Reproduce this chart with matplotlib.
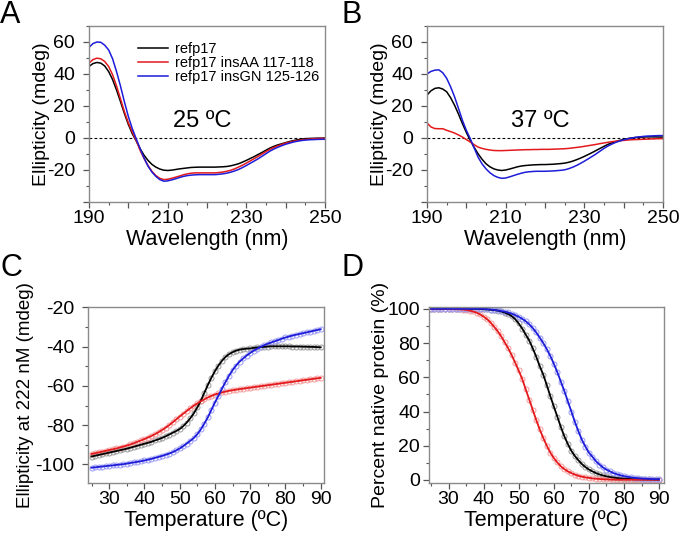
import matplotlib
matplotlib.use("Agg")
import matplotlib.pyplot as plt
from matplotlib.ticker import MultipleLocator, FuncFormatter
import numpy as np

plt.rcParams['font.family'] = ['Liberation Sans', 'DejaVu Sans']
plt.rcParams['axes.unicode_minus'] = False

# ---- CD spectra (panels A, B) ----
wavelength = np.arange(190, 251)
series_names = ["refp17", "refp17 insAA 117-118", "refp17 insGN 125-126"]

cd25_wt = [44.7, 46.5, 47.2, 46.8, 45, 41.5, 36.5, 30, 22.8, 15.3, 8.5, 2.7, -1.8, -6.7, -10.8,
           -14, -16.5, -18.2, -19.4, -20.1, -20.3, -20.1, -19.7, -19.3, -19, -18.7, -18.4, -18.3,
           -18.2, -18.2, -18.2, -18.2, -18.2, -18.1, -18, -17.8, -17.4, -16.8, -16.1, -15.1, -14,
           -12.8, -11.6, -10.3, -9, -7.6, -6.3, -5.2, -4.3, -3.6, -2.9, -2.2, -1.6, -1.1, -0.7,
           -0.4, -0.3, -0.2, -0.1, -0.1, 0]
cd25_aa = [46.8, 49, 49.9, 49.5, 47.8, 44.7, 39.5, 32.5, 24.5, 16.4, 9.5, 3.8, -1.5, -7.8, -12.8,
           -17.2, -20.8, -23.5, -25.2, -26, -25.8, -25.2, -24.5, -23.8, -23, -22.4, -22, -21.8,
           -21.8, -21.8, -21.8, -21.8, -21.8, -21.6, -21.3, -20.8, -20.2, -19.3, -18.2, -17, -15.7,
           -14.3, -12.9, -11.5, -10, -8.5, -7.1, -5.9, -4.9, -4, -3.2, -2.6, -2, -1.6, -1.2,
           -0.9, -0.7, -0.5, -0.4, -0.3, -0.2]
cd25_gn = [56.6, 59, 60, 59.8, 58, 55, 49.5, 41.5, 32.5, 22.6, 13.5, 5.9, -0.5, -6.7, -12.5,
           -17.6, -21.3, -24, -26, -27, -26.8, -26.2, -25.5, -24.7, -24, -23.5, -23.2, -23,
           -22.9, -22.9, -22.9, -22.9, -22.9, -22.7, -22.4, -22, -21.4, -20.6, -19.7, -18.5, -17.2,
           -15.8, -14.4, -13, -11.4, -9.8, -8.2, -6.9, -5.8, -4.8, -3.9, -3.2, -2.5, -2, -1.6,
           -1.3, -1.1, -1, -0.9, -0.8, -0.8]

cd37_wt = [26.8, 29.5, 31, 31.4, 30.6, 28.9, 25.2, 20.5, 15, 9, 3.5, -1.5, -5.9, -9.9, -13.3,
           -16.1, -18, -19.3, -20, -20.3, -20, -19.4, -18.7, -18, -17.5, -17.2, -17, -16.8,
           -16.7, -16.6, -16.6, -16.5, -16.4, -16.2, -16, -15.7, -15.2, -14.5, -13.6, -12.6, -11.5,
           -10.3, -9.1, -7.8, -6.5, -5.2, -4, -3, -2.2, -1.5, -0.9, -0.4, 0, 0.3, 0.5,
           0.6, 0.7, 0.7, 0.7, 0.6, 0.6]
cd37_aa = [9.4, 6.9, 5.9, 5.8, 5.8, 4.8, 4, 3.1, 1.9, 0.6, -1, -2.5, -4.2, -5.7, -6.5,
           -7.1, -7.5, -7.8, -7.9, -7.9, -7.8, -7.7, -7.6, -7.5, -7.4, -7.3, -7.3, -7.2,
           -7.2, -7.1, -7.1, -7.1, -7, -6.9, -6.8, -6.7, -6.5, -6.2, -5.9, -5.6, -5.2,
           -4.8, -4.4, -4, -3.5, -3.1, -2.7, -2.3, -2, -1.7, -1.5, -1.3, -1.1, -1, -0.9,
           -0.8, -0.7, -0.6, -0.5, -0.4, -0.4]
cd37_gn = [40, 41.6, 42.4, 42.6, 40.8, 37.3, 32, 25.8, 18.5, 11.1, 4.8, -0.4, -6.3, -12, -16.2,
           -19.3, -21.7, -23.5, -24.6, -25.2, -25, -24.3, -23.5, -22.7, -22, -21.4, -21.1, -20.9,
           -20.8, -20.8, -20.8, -20.7, -20.6, -20.4, -20.2, -19.9, -19.2, -18.3, -17.2, -15.9, -14.5,
           -13, -11.5, -9.9, -8.2, -6.5, -5, -3.8, -2.7, -1.9, -1.1, -0.5, 0, 0.4, 0.7,
           1, 1.2, 1.3, 1.4, 1.5, 1.5]

# ---- thermal melts (panels C, D) ----
temperature = np.arange(25, 91)

melt_wt = [-96, -95.6, -95.2, -94.8, -94.4, -94, -93.6, -93.2, -92.8, -92.4, -92, -91.5, -91,
           -90.5, -90, -89.5, -89, -88.5, -87.8, -87.2, -86.5, -85.7, -84.8, -83.9, -83, -82,
           -80.5, -78.7, -76.5, -74, -71, -67.5, -63.5, -59.5, -55.8, -52.5, -49.6, -47.2, -45.2,
           -43.8, -42.8, -42, -41.5, -41.2, -41, -40.9, -40.6, -40.4, -40.2, -40.1, -39.9, -39.8,
           -39.8, -39.8, -39.8, -39.8, -39.8, -39.9, -39.9, -39.9, -40, -40, -40.1, -40.1, -40.2,
           -40.3]
melt_aa = [-94.7, -94.3, -93.9, -93.5, -93.1, -92.7, -92.3, -91.9, -91.4, -90.9, -90.4, -89.8,
           -89.2, -88.5, -87.8, -87.1, -86.3, -85.5, -84.6, -83.6, -82.5, -81.3, -80, -78.6, -77.1,
           -75.6, -74.2, -72.8, -71.4, -70.1, -68.9, -67.8, -66.8, -65.9, -65.1, -64.4, -63.8,
           -63.3, -62.9, -62.5, -62.2, -61.9, -61.6, -61.4, -61.1, -60.9, -60.6, -60.4, -60.1,
           -59.9, -59.6, -59.4, -59.1, -58.9, -58.6, -58.4, -58.1, -57.9, -57.6, -57.4, -57.1,
           -56.9, -56.6, -56.4, -56.1, -55.9]
melt_gn = [-101.7, -101.5, -101.3, -101.1, -100.9, -100.7, -100.5, -100.3, -100.1, -99.9, -99.6,
           -99.3, -99, -98.7, -98.4, -98, -97.6, -97.2, -96.7, -96.2, -95.7, -95.1, -94.5, -93.8,
           -92.9, -91.9, -90.7, -89.4, -88, -86.6, -84.6, -82.2, -79.2, -76, -72.2, -68.5, -65,
           -61.4, -58, -54.8, -52, -49.6, -47.6, -46, -44.5, -43.2, -42, -41, -40.1, -39.2,
           -38.5, -37.8, -37.2, -36.6, -35.9, -35.3, -34.8, -34.3, -33.9, -33.5, -33.1, -32.7,
           -32.3, -31.9, -31.5, -31.1]

native_wt = [100, 100, 100, 100, 100, 100, 100, 100, 100, 100, 100, 100, 100, 100,
             99.9, 99.8, 99.7, 99.5, 99.3, 99, 98.5, 97.8, 97, 95.8, 94, 91.5, 88.5, 85, 81.5,
             77, 72, 66.5, 61.5, 55.5, 49, 43, 37, 31, 25.5, 21, 17, 14, 11.5, 9.3, 7.5, 6.1,
             5, 4, 3.2, 2.6, 2.1, 1.7, 1.4, 1.1, 0.9, 0.7, 0.6, 0.5, 0.4, 0.4, 0.3, 0.3, 0.3,
             0.2, 0.2, 0.2]
native_aa = [100, 100, 100, 100, 99.9, 99.9, 99.9, 99.8, 99.8, 99.6, 99.4, 99, 98.5, 97.8,
             96.8, 95.5, 94, 92, 89.5, 87, 84, 80.5, 77, 73, 68.5, 64, 59, 53, 47, 41, 35, 29.5,
             24.5, 20, 16, 12.8, 10.2, 8, 6.3, 5, 4, 3.1, 2.4, 1.9, 1.5, 1.2, 0.9, 0.7, 0.55,
             0.4, 0.3, 0.25, 0.2, 0.15, 0.1, 0.1, 0.1, 0.1, 0.1, 0.1, 0.1, 0.1, 0.1, 0.1, 0.1,
             0.1]
native_gn = [100, 100, 100, 100, 100, 100, 100, 100, 100, 100, 100, 100, 100, 100, 100, 100,
             99.8, 99.6, 99.4, 99.1, 98.8, 98.4, 97.9, 97.2, 96.4, 95.4, 94.2, 92.8, 91, 88.8,
             86.2, 83.2, 80, 76.5, 72.5, 68, 63, 57.5, 52, 46, 40, 34, 28.5, 23.5, 19.5, 16,
             13.5, 11, 9, 7.3, 6, 5, 4, 3.3, 2.7, 2.2, 1.8, 1.5, 1.2, 1, 0.8, 0.7, 0.6, 0.5,
             0.4, 0.4]

line_colors = ["#000000", "#e3191c", "#1c1cd9"]
marker_colors = ["#9a9a9a", "#f59a9a", "#9a9af5"]


def style_axes(ax, xmaj, xmin, xfirst, xlabel_every, ymaj, ymin, ylabel_min, ypad):
    for sp in ax.spines.values():
        sp.set_color("#8a8a8a")
        sp.set_linewidth(1.0)
    ax.xaxis.set_major_locator(MultipleLocator(xmaj))
    ax.xaxis.set_minor_locator(MultipleLocator(xmin))
    ax.xaxis.set_major_formatter(FuncFormatter(
        lambda v, p: "%d" % round(v) if (round(v) - xfirst) % xlabel_every == 0 else ""))
    ax.yaxis.set_major_locator(MultipleLocator(ymaj))
    ax.yaxis.set_minor_locator(MultipleLocator(ymin))
    ax.yaxis.set_major_formatter(FuncFormatter(
        lambda v, p: "%d" % round(v) if v >= ylabel_min - 1e-6 else ""))
    ax.tick_params(which="both", direction="out", color="#555555", labelsize=14)
    ax.tick_params(axis="x", pad=2)
    ax.tick_params(axis="y", pad=ypad)
    ax.tick_params(which="major", length=4, width=0.9)
    ax.tick_params(which="minor", length=2.5, width=0.8)


fig = plt.figure(figsize=(6.8, 5.37), dpi=100)

axA = fig.add_axes([89 / 680, 1 - 202 / 537, 236 / 680, 176 / 537])
axB = fig.add_axes([427 / 680, 1 - 202 / 537, 236 / 680, 176 / 537])
axC = fig.add_axes([88 / 680, 1 - 483 / 537, 235.5 / 680, 176.5 / 537])
axD = fig.add_axes([428.5 / 680, 1 - 483 / 537, 235.5 / 680, 176.5 / 537])

# panels A and B
for ax, spectra, label in [(axA, [cd25_wt, cd25_aa, cd25_gn], "25 ºC"),
                           (axB, [cd37_wt, cd37_aa, cd37_gn], "37 ºC")]:
    ax.axhline(0, color="black", lw=0.8, ls=(0, (2.5, 2)))
    for vals, col, name in zip(spectra, line_colors, series_names):
        ax.plot(wavelength, vals, color=col, lw=1.1, label=name)
    ax.set_xlim(190, 250)
    ax.set_ylim(-40, 70)
    style_axes(ax, 10, 5, 190, 20, 20, 10, -20, 6)
    ax.set_xlabel("Wavelength (nm)", fontsize=15.5, labelpad=1)
    ax.set_ylabel("Ellipticity (mdeg)", fontsize=14, labelpad=-2)
    ax.text(0.48, 0.46, label, transform=ax.transAxes, fontsize=17, ha="center", va="center")

axA.legend(loc="upper left", bbox_to_anchor=(0.185, 0.94), frameon=False, fontsize=10.5,
           handlelength=2.0, handletextpad=0.5, labelspacing=0.0, borderaxespad=0)

# panels C and D
for ax, melts in [(axC, [melt_wt, melt_aa, melt_gn]), (axD, [native_wt, native_aa, native_gn])]:
    for vals, lc, mc in zip(melts, line_colors, marker_colors):
        ax.plot(temperature, vals, ls="none", marker="o", ms=3.6, mfc="none", mec=mc, mew=0.7)
    for vals, lc, mc in zip(melts, line_colors, marker_colors):
        ax.plot(temperature, vals, color=lc, lw=1.3)
    ax.set_xlabel("Temperature (ºC)", fontsize=15.5, labelpad=1)

axC.set_xlim(24, 90.8)
axC.set_ylim(-109.5, -19.5)
style_axes(axC, 10, 5, 30, 10, 20, 10, -100, 6)
axC.set_ylabel("Ellipticity at 222 nM (mdeg)", fontsize=13.5, labelpad=1)

axD.set_xlim(24.3, 91.4)
axD.set_ylim(-1.8, 101.4)
style_axes(axD, 10, 5, 30, 10, 20, 10, 0, 2)
axD.set_ylabel("Percent native protein (%)", fontsize=14, labelpad=-1)

# panel letters
for x, y, letter in [(0, 537, "A"), (342, 537, "B"), (0, 284, "C"), (342, 284, "D")]:
    fig.text(x / 680, y / 537, letter, fontsize=22, va="top", ha="left")

fig.savefig("out.png", dpi=100)
